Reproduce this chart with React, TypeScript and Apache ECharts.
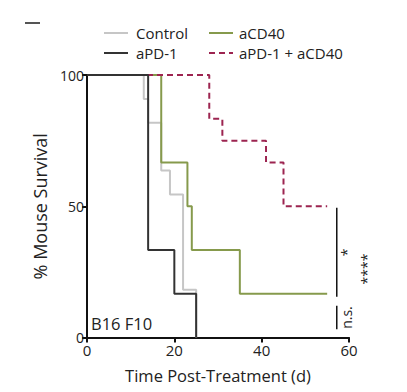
import React, { useEffect, useRef } from "react";
import * as echarts from "echarts";

// Kaplan-Meier step curves: [day, % survival] at each event
const controlCurve: [number, number][] = [[0, 100], [13, 90.9], [14, 81.8], [17, 63.6], [19, 54.5], [22, 18.2], [25, 0]];
const apd1Curve: [number, number][] = [[0, 100], [14, 33.3], [20, 16.7], [25, 0]];
const acd40Curve: [number, number][] = [[0, 100], [17, 66.7], [23, 50], [24, 33.3], [35, 16.7], [55, 16.7]];
const comboCurve: [number, number][] = [[0, 100], [28, 83.3], [31, 75], [41, 66.7], [45, 50], [55, 50]];

const seriesNames = ["Control", "aPD-1", "aCD40", "aPD-1 + aCD40"];
const xTicks = [0, 20, 40, 60];
const yTicks = [0, 50, 100];

// significance brackets: x (day), from y1 to y2 (%), label
const sigX = [57.2, 57.2, 61.8];
const sigY1 = [49.4, 12.1, 49];
const sigY2 = [15.5, 3.1, 3.2];
const sigLabels = ["*", "n.s.", "****"];

const FONT = "'Open Sans', sans-serif";

export default function App() {
  const ref = useRef<HTMLDivElement>(null);
  useEffect(() => {
    if (!ref.current) return;
    const chart = echarts.init(ref.current, undefined, { renderer: "svg" });
    const lineS = (name: string, data: [number, number][], color: string, z: number, type: any = "solid") => ({
      name,
      type: "line",
      step: "end",
      data,
      symbol: "none",
      z,
      lineStyle: { color, width: 2, type },
      itemStyle: { color },
    });
    const sigSeries = sigX.map((x, i) => ({
      type: "line",
      data: [[x, sigY1[i]], [x, sigY2[i]]],
      symbol: "none",
      clip: false,
      silent: true,
      lineStyle: { color: "#111", width: 1.5 },
      z: 5,
    }));
    const legendBase = {
      orient: "vertical",
      top: 20,
      itemWidth: 24,
      itemHeight: 14,
      itemGap: 4,
      itemStyle: { opacity: 0 },
      textStyle: { fontSize: 15, fontFamily: FONT, color: "#222", padding: [0, 0, 0, 3], lineHeight: 16 },
    };
    chart.setOption({
      animation: false,
      grid: { left: 87, right: 58, top: 75, bottom: 54.5, containLabel: false, outerBoundsMode: "none" },
      legend: [
        { ...legendBase, data: [seriesNames[0], seriesNames[1]], left: 98 },
        { ...legendBase, data: [seriesNames[2], seriesNames[3]], left: 203, textStyle: { ...legendBase.textStyle, padding: [0, 0, 0, 1] } },
      ],
      title: {
        text: "B16 F10",
        left: 91,
        top: 315,
        padding: 0,
        textStyle: { fontSize: 16.5, fontWeight: "normal", fontFamily: FONT, color: "#222" },
      },
      xAxis: {
        type: "value",
        min: 0,
        max: 60,
        interval: 20,
        name: "Time Post-Treatment (d)",
        nameLocation: "middle",
        nameGap: 29,
        nameTextStyle: { fontSize: 16.5, fontFamily: FONT, color: "#222" },
        axisLine: { lineStyle: { color: "#111", width: 2 } },
        axisTick: { length: 5, lineStyle: { color: "#111", width: 2 } },
        axisLabel: { fontSize: 15, fontFamily: FONT, color: "#222", margin: 5, customValues: xTicks },
        splitLine: { show: false },
      },
      yAxis: {
        type: "value",
        min: 0,
        max: 100,
        interval: 50,
        name: "% Mouse Survival",
        nameLocation: "middle",
        nameGap: 33,
        nameTextStyle: { fontSize: 18, fontFamily: FONT, color: "#222" },
        axisLine: { show: true, lineStyle: { color: "#111", width: 2 } },
        axisTick: { show: true, length: 5, lineStyle: { color: "#111", width: 2 } },
        axisLabel: { fontSize: 14, fontFamily: FONT, color: "#222", margin: 3, customValues: yTicks },
        splitLine: { show: false },
      },
      series: [
        lineS(seriesNames[0], controlCurve, "#c6c6c6", 2),
        lineS(seriesNames[2], acd40Curve, "#869a4c", 3),
        lineS(seriesNames[3], comboCurve, "#9c2450", 4, [6, 4]),
        lineS(seriesNames[1], apd1Curve, "#333333", 5),
        ...sigSeries,
      ],
    });
    const graphics: any[] = sigX.map((x, i) => {
      const p = chart.convertToPixel({ gridIndex: 0 }, [x, (sigY1[i] + sigY2[i]) / 2]) as number[];
      return {
        type: "text",
        x: p[0] + 10,
        y: p[1],
        rotation: Math.PI / 2,
        style: {
          text: sigLabels[i],
          fontSize: 14,
          fontFamily: FONT,
          fill: "#222",
          align: "center",
          verticalAlign: "middle",
        },
      };
    });
    graphics.push({
      type: "line",
      shape: { x1: 25, y1: 23, x2: 40, y2: 23 },
      style: { stroke: "#555", lineWidth: 2 },
    });
    chart.setOption({ graphic: graphics });
    return () => chart.dispose();
  }, []);
  return <div ref={ref} style={{ width: 407, height: 392, position: "absolute", left: 0, top: 0, background: "#fff" }} />;
}
